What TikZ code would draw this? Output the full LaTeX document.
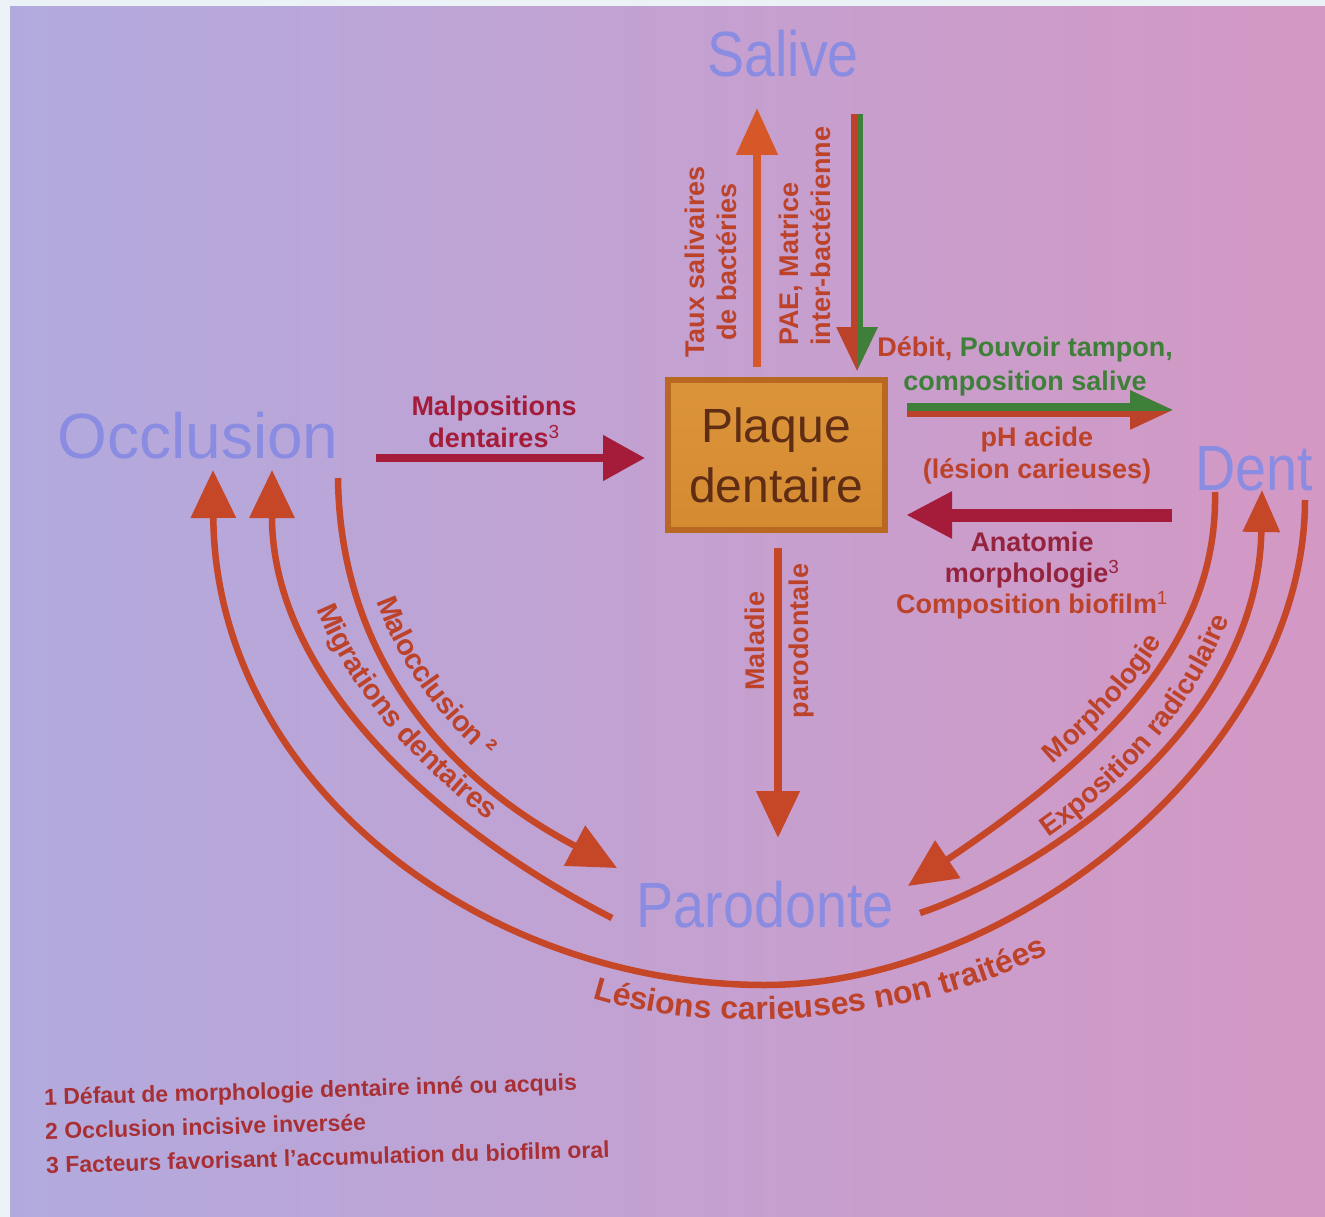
\documentclass[tikz,border=0pt]{standalone}
\usepackage{fontspec}
\setmainfont{Liberation Sans}
\newfontfamily\titlefont[FakeStretch=0.87]{Liberation Sans}
\usetikzlibrary{arrows.meta,decorations.text}

\definecolor{edgewhite}{RGB}{234,242,245}
\definecolor{bgleft}{RGB}{178,170,222}
\definecolor{bgright}{RGB}{212,152,196}
\definecolor{titleblue}{RGB}{138,140,226}
\definecolor{arcorange}{RGB}{198,70,40}
\definecolor{brightorange}{RGB}{214,88,40}
\definecolor{crimson}{RGB}{165,28,58}
\definecolor{labred}{RGB}{188,66,42}
\definecolor{labmaroon}{RGB}{150,35,62}
\definecolor{labgreen}{RGB}{62,128,58}
\definecolor{plaquefill}{RGB}{212,138,48}
\definecolor{plaquetop}{RGB}{220,148,58}
\definecolor{plaqueedge}{RGB}{184,104,32}
\definecolor{plaquetext}{RGB}{95,45,20}
\definecolor{footred}{RGB}{168,48,52}

\newcommand\arcfont{\bfseries\fontsize{29}{29}\selectfont}
\newcommand\rightarcfont{\bfseries\fontsize{28}{28}\selectfont}
\newcommand\lowarcfont{\bfseries\fontsize{32}{32}\selectfont}

\begin{document}
\begin{tikzpicture}[x=1pt, y=-1pt,
    title/.style={text=titleblue, inner sep=0pt, font=\titlefont\fontsize{64}{64}\selectfont},
    lab/.style={font=\bfseries\fontsize{27}{32}\selectfont, align=center, inner sep=0pt},
    plaquebox/.style={draw=plaqueedge, line width=6pt, top color=plaquetop, bottom color=plaquefill,
      minimum width=217pt, minimum height=150pt, inner sep=0pt, align=center, text=plaquetext,
      font=\fontsize{48}{60}\selectfont},
    shaft/.style={line width=8pt, -{Triangle[length=46pt,width=42pt]}},
    arcarr/.style={draw=arcorange, line width=6.5pt, -{Triangle[length=48pt,width=44pt]}},
    arclabel/.style={decorate, decoration={text along path, text align=center, raise=#1, text color=labred}}
  ]
  % backdrop
  \fill[edgewhite] (0,0) rectangle (1325,1217);
  \shade[left color=bgleft, right color=bgright] (10,7) rectangle (1325,1217);

  % main elements
  \node[title] (salive) at (783,54) {Salive};
  \node[title, font=\fontsize{64}{64}\selectfont] (occlusion) at (198,436) {Occlusion};
  \node[title] (dent) at (1254,469) {Dent};
  \node[title] (parodonte) at (765,905) {Parodonte};
  \node[plaquebox] (plaque) at (776,455) {Plaque\\dentaire};

  % arrow ends
  \coordinate (tauxS) at (757,367);
  \coordinate (tauxE) at (757,108);
  \coordinate (paeS) at (857,114);
  \coordinate (paeE) at (857,372);
  \coordinate (malpS) at (376,458);
  \coordinate (malpE) at (645,458);
  \coordinate (debS) at (907,410);
  \coordinate (debE) at (1174,410);
  \coordinate (anatS) at (1172,515);
  \coordinate (anatE) at (906,515);
  \coordinate (maladS) at (778,548);
  \coordinate (maladE) at (778,838);
  \coordinate (occA) at (213,470);
  \coordinate (occB) at (272,470);
  \coordinate (occC) at (338,478);
  \coordinate (parA) at (617,868);
  \coordinate (parB) at (612,918);
  \coordinate (parC) at (920,913);
  \coordinate (parD) at (908,886);
  \coordinate (dentA) at (1215,492);
  \coordinate (dentB) at (1262,490);
  \coordinate (dentC) at (1305,500);
  \coordinate (lowest) at (765,985);

  % straight arrows
  \draw[shaft, brightorange, -{Triangle[length=47pt,width=40pt]}] (tauxS) -- (tauxE);
  \draw[shaft, labred, line width=12pt, -{Triangle[length=45pt,width=38pt]}] (paeS) -- (paeE);
  \begin{scope}
    \clip (857,100) rectangle (900,390);
    \draw[shaft, labgreen, line width=12pt, -{Triangle[length=45pt,width=38pt]}] (paeS) -- (paeE);
  \end{scope}
  \draw[shaft, crimson, -{Triangle[length=42pt,width=44pt]}] (malpS) -- (malpE);
  \draw[shaft, labred, line width=14pt, -{Triangle[length=44pt,width=36pt]}] (debS) -- (debE);
  \begin{scope}
    \clip (900,380) rectangle (1190,410);
    \draw[shaft, labgreen, line width=14pt, -{Triangle[length=44pt,width=36pt]}] (debS) -- (debE);
  \end{scope}
  \draw[shaft, crimson, line width=13pt, -{Triangle[length=46pt,width=44pt]}] (anatS) -- (anatE);
  \draw[shaft, arcorange, -{Triangle[length=47pt,width=42pt]}] (maladS) -- (maladE);

  % curved arrows
  \draw[arcarr] (dentC) .. controls (1305,750) and (1015,985) .. (lowest)
    .. controls (480,985) and (215,780) .. (occA);
  \draw[arcarr] (parB) .. controls (440,830) and (272,680) .. (occB);
  \draw[arcarr] (occC) .. controls (340,660) and (450,780) .. (parA);
  \draw[arcarr] (dentA) .. controls (1218,640) and (1110,750) .. (parD);
  \draw[arcarr, -{Triangle[length=42pt,width=36pt]}] (parC) .. controls (1020,880) and (1258,740) .. (dentB);

  % labels of straight arrows
  \node[lab, rotate=90, text=labred] (taux) at (711,262) {Taux salivaires\\de bactéries};
  \node[lab, rotate=90, align=left, anchor=west, text=labred] (pae) at (805,346) {PAE, Matrice\\inter-bactérienne};
  \node[lab, text=crimson] (malpos) at (494,422) {Malpositions\\dentaires\textsuperscript{\mdseries 3}};
  \node[lab, text=labgreen, font=\bfseries\fontsize{27}{34}\selectfont] (debit) at (1025,366)
    {{\color{labred}Débit,} Pouvoir tampon,\\composition salive};
  \node[lab, text=labred] (ph) at (1037,456) {pH acide\\(lésion carieuses)};
  \node[lab, text=labmaroon, font=\bfseries\fontsize{27}{31}\selectfont] (anat) at (1032,576)
    {Anatomie\\morphologie\textsuperscript{\mdseries 3}\\{\color{labred}Composition biofilm\textsuperscript{\mdseries 1}}};
  \node[lab, rotate=90, text=labred] (maladie) at (755,641) {Maladie};
  \node[lab, rotate=90, text=labred] (parodlab) at (802,641) {parodontale};

  % labels along the arcs
  \path[arclabel=17pt, decoration={text align={left, left indent=132pt}, text={|\arcfont|Malocclusion  ²}}]
    (occC) .. controls (340,660) and (450,780) .. (parA);
  \path[arclabel=17pt, decoration={text align={left, left indent=150pt}, text={|\arcfont|Migrations dentaires}}]
    (occB) .. controls (272,680) and (440,830) .. (parB);
  \path[arclabel=11pt, decoration={text align={left, left indent=190pt}, text={|\rightarcfont|Morphologie}}]
    (parD) .. controls (1110,750) and (1218,640) .. (dentA);
  \path[arclabel=8pt, decoration={text align={left, left indent=150pt}, text={|\rightarcfont|Exposition radiculaire}}]
    (parC) .. controls (1020,880) and (1258,740) .. (dentB);
  \path[arclabel=0pt, decoration={text={|\lowarcfont|Lésions carieuses non traitées}}]
    (583,995) .. controls (700,1035) and (900,1030) .. (1057,950);

  % footnotes
  \node[anchor=west, rotate=1.6, align=left, inner sep=0pt, text=footred,
    font=\bfseries\fontsize{23}{34}\selectfont] (notes) at (45,1131)
    {1 Défaut de morphologie dentaire inné ou acquis\\
     2 Occlusion incisive inversée\\
     3 Facteurs favorisant l’accumulation du biofilm oral};
\end{tikzpicture}
\end{document}
